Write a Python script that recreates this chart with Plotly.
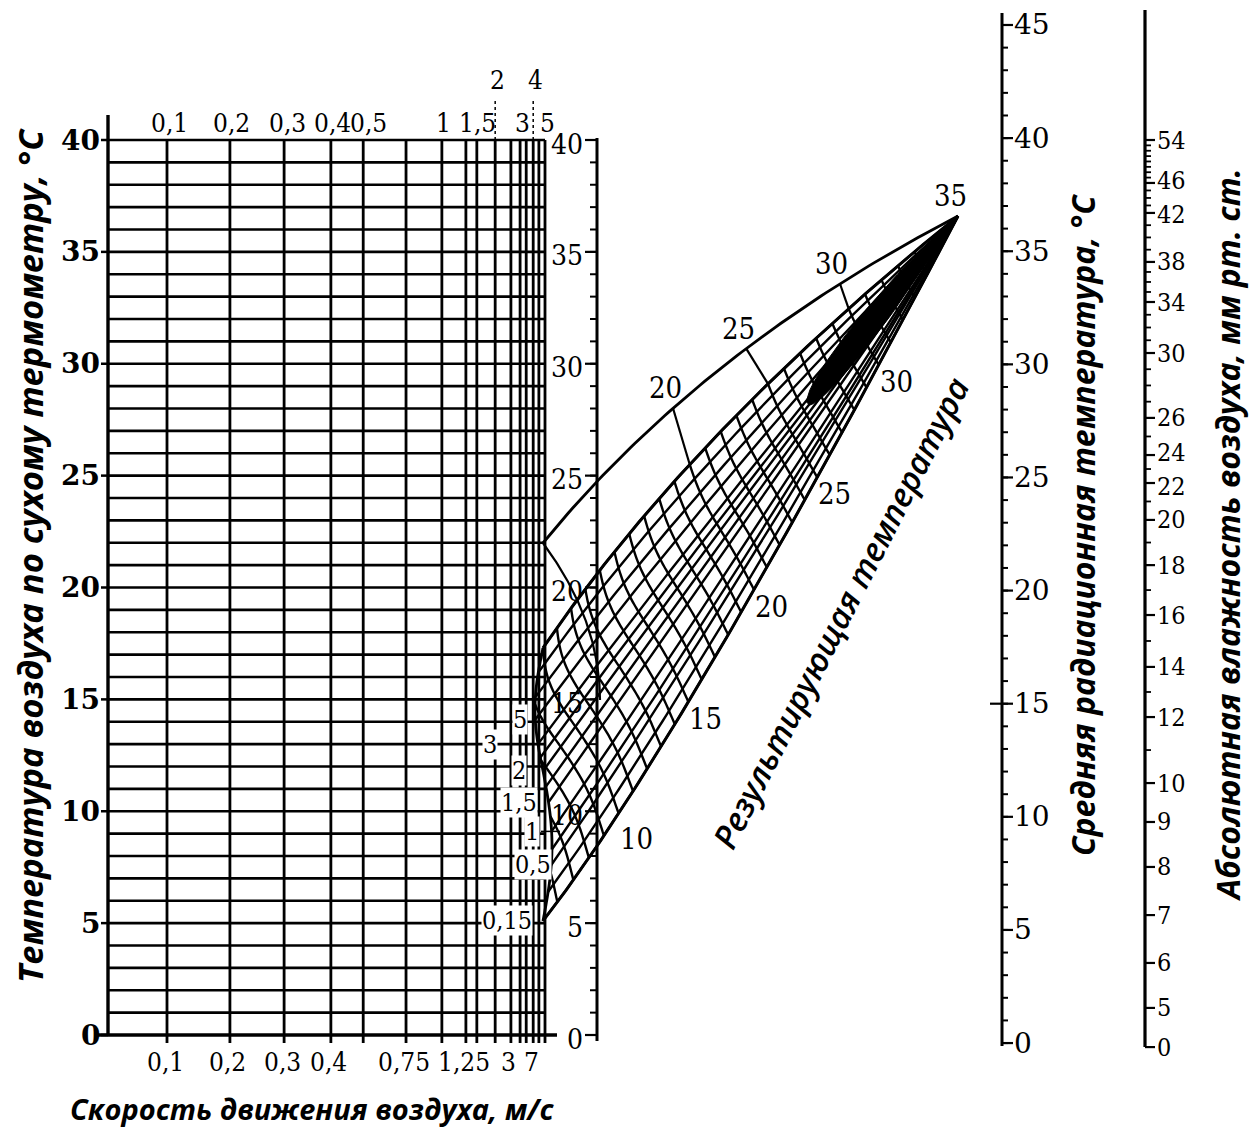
import numpy as np
import plotly.graph_objects as go

# ------------------------------------------------------------------ data
AIR_T_MIN, AIR_T_MAX = 0, 40
AIR_T_LABELS = [0, 5, 10, 15, 20, 25, 30, 35, 40]

# speed grid (top scale) and its calibration (fraction of grid width)
GRID_SPEEDS = [0, 0.1, 0.2, 0.3, 0.4, 0.5, 0.75, 1, 1.25, 1.5, 2, 2.5, 3, 3.5, 4, 4.5, 5]
GRID_SPEED_SCALE = [0, .135, .279, .403, .510, .584, .682, .764, .819, .844, .886,
                    .922, .943, .957, .973, .986, 1.0]

TOP_SPEED_VALUES = [0.1, 0.2, 0.3, 0.4, 0.5, 1, 1.5, 2, 3, 4, 5]
TOP_SPEED_LABELS = ["0,1", "0,2", "0,3", "0,4", "0,5", "1", "1,5", "2", "3", "4", "5"]
TOP_SPEED_RAISED = [0, 0, 0, 0, 0, 0, 0, 1, 0, 1, 0]

BOTTOM_SPEED_AT = [0.1, 0.2, 0.3, 0.4, 0.75, 1.25, 2.5, 4]
BOTTOM_SPEED_LABELS = ["0,1", "0,2", "0,3", "0,4", "0,75", "1,25", "3", "7"]

# mean radiant temperature scale
RAD_LABELS = [0, 5, 10, 15, 20, 25, 30, 35, 40, 45]
RAD_MINOR = list(range(0, 46))
RAD_SCALE_VALUES = [0, 45]
RAD_SCALE_AIR_T = [-0.36, 45.14]

# absolute humidity scale (mm Hg) calibrated against the temperature scale
HUM_LABELS = [0, 5, 6, 7, 8, 9, 10, 12, 14, 16, 18, 20, 22, 24, 26, 30, 34, 38, 42, 46, 54]
HUM_SCALE_AIR_T = [-0.54, 1.21, 3.22, 5.36, 7.51, 9.52, 11.26, 14.21, 16.45, 18.77, 21.0,
                   23.02, 24.67, 25.92, 27.58, 30.48, 32.76, 34.55, 36.74, 38.08, 40.0]
HUM_MINOR = list(range(10, 55))

# resultant-temperature network: air temperature at which each speed line starts
MESH_START_T = [17.3, 16.2, 15.1, 14.1, 13.0, 12.4, 11.8, 11.1, 10.4, 9.1, 8.3, 7.6, 6.4, 5.1]
MESH_SPEED_LABELS = {3: "5", 4: "3", 6: "2", 8: "1,5", 9: "1", 11: "0,5", 13: "0,15"}
RESULT_T = list(range(6, 37))
RESULT_START_UP, RESULT_START_LO, RESULT_APEX = 10.0, 5.14, 36.6
LOWER_LABELS = [10, 15, 20, 25, 30]
UPPER_LABELS = [20, 25, 30, 35]
UPPER_LABEL_POS = [0.37, 0.55, 0.76, 1.0]

# ------------------------------------------------------------------ layout geometry
W, H = 1253, 1131
PX_PER_DEG = 22.375
Y0_PX = 1035
GRID_L, GRID_R = 108, 545
AX2_X, RAD_X, HUM_X = 597, 1002, 1145

def px_t(ypx):
    return (Y0_PX - ypx) / PX_PER_DEG

def dpx(n):  # vertical pixel distance in degrees
    return n / PX_PER_DEG

def speed_x(v):
    return GRID_L + np.interp(v, GRID_SPEEDS, GRID_SPEED_SCALE) * (GRID_R - GRID_L)

APEX = np.array([958.0, RESULT_APEX])
UP_START = np.array([543.0, MESH_START_T[0]])
UP_CTRL = np.array([690.0, px_t(432)])
LO_START = np.array([543.0, MESH_START_T[-1]])
LO_CTRL = np.array([680.0, px_t(745)])
TOP_START = np.array([543.0, px_t(543)])
TOP_CTRL = np.array([700.0, px_t(350)])
A_UP, A_LO = 0.8, 0.51

fig = go.Figure()

def add(xs, ys, width=2.0, dash=None, shape="linear", color="black", fill=None):
    fig.add_trace(go.Scatter(x=xs, y=ys, mode="lines", hoverinfo="skip", showlegend=False,
                             fill=fill, fillcolor=color if fill else None,
                             line=dict(color=color, width=width, dash=dash, shape=shape)))

def segs(pairs):
    xs, ys = [], []
    for (x0, y0, x1, y1) in pairs:
        xs += [x0, x1, None]
        ys += [y0, y1, None]
    return xs, ys

def bez(p0, c, p2, t):
    t = np.asarray(t, dtype=float)[..., None]
    return (1 - t) ** 2 * p0 + 2 * t * (1 - t) * c + t ** 2 * p2

def arc_dx(s):
    if s < 0.45:
        return -8 * np.sin(np.pi * s / 0.45)
    return 9 * np.sin(np.pi * (s - 0.45) / 0.55)

# ------------------------------------------------------------------ left grid
hx, hy = segs([(GRID_L, T, GRID_R, T) for T in range(AIR_T_MIN + 1, AIR_T_MAX + 1)])
add(hx, hy, 2.6)
vx, vy = segs([(speed_x(v), AIR_T_MIN - dpx(8), speed_x(v), AIR_T_MAX) for v in GRID_SPEEDS[1:]])
add(vx, vy, 2.8)
add([GRID_L, GRID_L], [AIR_T_MIN, AIR_T_MAX + dpx(25)], 3.4)           # left axis
add([GRID_L - 10, GRID_R + 12], [AIR_T_MIN, AIR_T_MIN], 3.4)            # bottom line
tx, ty = segs([(GRID_L - 7, T, GRID_L, T) for T in AIR_T_LABELS])
add(tx, ty, 2.5)
for v, r in zip(TOP_SPEED_VALUES, TOP_SPEED_RAISED):
    if r:
        add([speed_x(v), speed_x(v)], [AIR_T_MAX, AIR_T_MAX + dpx(42)], 1.5, dash="dot")

# ------------------------------------------------------------------ second temperature axis
add([AX2_X, AX2_X], [AIR_T_MIN - dpx(6), AIR_T_MAX + dpx(2)], 3.0)
mx, my = segs([(AX2_X - 7, T, AX2_X, T) for T in range(AIR_T_MIN, AIR_T_MAX + 1)])
add(mx, my, 2.0)
Mx, My = segs([(AX2_X - 12, T, AX2_X, T) for T in AIR_T_LABELS])
add(Mx, My, 2.2)

# ------------------------------------------------------------------ radiant temperature axis
def rad_t(v):
    return np.interp(v, RAD_SCALE_VALUES, RAD_SCALE_AIR_T)

add([RAD_X, RAD_X], [rad_t(0) - dpx(3), rad_t(45) + dpx(12)], 3.0)
rx, ry = segs([(RAD_X, rad_t(v), RAD_X + 6, rad_t(v)) for v in RAD_MINOR])
add(rx, ry, 2.0)
Rx, Ry = segs([(RAD_X, rad_t(v), RAD_X + 11, rad_t(v)) for v in RAD_LABELS])
add(Rx, Ry, 2.2)
add([RAD_X - 12, RAD_X], [rad_t(15), rad_t(15)], 2.2)

# ------------------------------------------------------------------ humidity axis
def hum_t(v):
    return np.interp(v, HUM_LABELS, HUM_SCALE_AIR_T)

add([HUM_X, HUM_X], [hum_t(0), px_t(10)], 3.2)
ux, uy = segs([(HUM_X, hum_t(v), HUM_X + 6, hum_t(v)) for v in HUM_MINOR])
add(ux, uy, 1.8)
Ux, Uy = segs([(HUM_X, hum_t(v), HUM_X + 10, hum_t(v)) for v in HUM_LABELS])
add(Ux, Uy, 2.2)

# ------------------------------------------------------------------ resultant temperature network
n = len(MESH_START_T)
s_vals = [(MESH_START_T[0] - T0) / (MESH_START_T[0] - MESH_START_T[-1]) for T0 in MESH_START_T]

def fan_point(s, t):
    t = np.asarray(t, dtype=float)
    U = bez(UP_START, UP_CTRL, APEX, t)
    L = bez(LO_START, LO_CTRL, APEX, t)
    P = (1 - s) * U + s * L
    P[..., 0] += arc_dx(s) * (1 - t) ** 2
    return P

def t_of(T, s):
    a = A_UP + s * (A_LO - A_UP)
    T0 = RESULT_START_UP + s * (RESULT_START_LO - RESULT_START_UP)
    if T < T0 - 1e-9:
        return None
    f = np.clip((T - T0) / (RESULT_APEX - T0), 0, 1)
    if abs(1 - a) < 1e-9:
        return f
    return (-a + np.sqrt(a * a + 4 * (1 - a) * f)) / (2 * (1 - a))

tt = np.linspace(0, 1, 90)
fxs, fys = [], []
for j, s in enumerate(s_vals):
    P = fan_point(s, tt)
    fxs += list(P[:, 0]) + [None]
    fys += list(P[:, 1]) + [None]
    if j in (0, n - 1):
        add(list(P[:, 0]), list(P[:, 1]), 3.0)
add(fxs, fys, 2.4)

ss = np.linspace(0, 1, 60)
arc = np.array([fan_point(s, 0.0) for s in ss])
add(list(arc[:, 0]), list(arc[:, 1]), 2.8, shape="spline")

# cross curves of equal resultant temperature (start on the left arc where needed)
for T in RESULT_T:
    pts = []
    for s in np.linspace(0, 1, 40):
        t = t_of(T, s)
        if t is None:
            continue
        pts.append(fan_point(s, t))
    if T < RESULT_START_UP:
        s_edge = (RESULT_START_UP - T) / (RESULT_START_UP - RESULT_START_LO)
        pts.insert(0, fan_point(s_edge, 0.0))
    pts = np.array(pts)
    add(list(pts[:, 0]), list(pts[:, 1]), 2.4, shape="spline")

# converging lines merge into a solid, tapering wedge near the apex
tw = np.linspace(0.70, 1.0, 40)
u = np.clip((tw - 0.70) / 0.2, 0, 1)
s_hi = 0.36 - 0.24 * np.sqrt(u)
s_lo = 0.36 + 0.26 * np.sqrt(u)
e1 = np.array([fan_point(a, b) for a, b in zip(s_hi, tw)])
e2 = np.array([fan_point(a, b) for a, b in zip(s_lo, tw)])[::-1]
wedge = np.vstack([e1, e2])
add(list(wedge[:, 0]), list(wedge[:, 1]), 1.0, fill="toself")

top = bez(TOP_START, TOP_CTRL, APEX, tt)
add(list(top[:, 0]), list(top[:, 1]), 2.8)
for T, p in zip(UPPER_LABELS[:3], UPPER_LABEL_POS[:3]):
    a = bez(TOP_START, TOP_CTRL, APEX, p)
    b = fan_point(0.0, t_of(T, 0.0))
    add([a[0], b[0]], [a[1], b[1]], 2.2)
a1 = bez(TOP_START, np.array([600.0, px_t(620)]), np.array([600.0, px_t(700)]), tt)
add(list(a1[:, 0]), list(a1[:, 1]), 2.2)

add([500, 533], [MESH_START_T[4], MESH_START_T[4]], 1.5, dash="dash")
add([541, 560], [MESH_START_T[9], MESH_START_T[9]], 1.5)

# ------------------------------------------------------------------ text
ann = []
SERIF = "DejaVu Serif"
SERIF_C = "DejaVu Serif Condensed"
TITLE = "Open Sans"

def text(x, y, s, size=28, family=SERIF, xanchor="center", yanchor="middle",
         angle=0, weight="normal", style="normal", bg=None):
    d = dict(x=x, y=y, xref="x", yref="y", text=s, showarrow=False, xanchor=xanchor,
             yanchor=yanchor, textangle=angle,
             font=dict(family=family, size=size, color="black", weight=weight, style=style))
    if bg:
        d.update(bgcolor=bg, borderpad=0)
    ann.append(d)

for T in AIR_T_LABELS:
    text(GRID_L - 6, T, str(T), 28, SERIF, xanchor="right", weight="bold")
    text(AX2_X - 12, T + dpx(-4), str(T), 28, SERIF_C, xanchor="right")
TOP_DX = [2, 2, 3, 2, 5, 2, 1, 2, 2, 2, 2]
for v, lab, r, dx in zip(TOP_SPEED_VALUES, TOP_SPEED_LABELS, TOP_SPEED_RAISED, TOP_DX):
    text(speed_x(v) + dx, AIR_T_MAX + dpx(17 + 43 * r), lab, 26, SERIF_C)
for v, lab in zip(BOTTOM_SPEED_AT, BOTTOM_SPEED_LABELS):
    text(speed_x(v) - 2, AIR_T_MIN - dpx(27), lab, 26, SERIF_C)
for v in RAD_LABELS:
    text(RAD_X + 10, rad_t(v), str(v), 28, SERIF, xanchor="left")
HUM_DY = {46: 2, 42: -2, 24: 3, 22: -3}
for v in HUM_LABELS:
    text(HUM_X + 10, hum_t(v) + dpx(HUM_DY.get(v, 0)), str(v), 25, SERIF_C, xanchor="left")

LABEL_DX = {"5": -17, "3": -47, "2": -18, "1,5": -7, "1": -5, "0,5": 7, "0,15": -12}
for j, lab in MESH_SPEED_LABELS.items():
    text(GRID_R + LABEL_DX[lab], MESH_START_T[j], lab, 25, SERIF_C, xanchor="right", bg="white")
for T in LOWER_LABELS:
    p = fan_point(1.0, t_of(T, 1.0))
    dy = 26 if T == 10 else 17
    text(p[0] - 1, p[1] - dpx(dy), str(T), 29, SERIF_C, xanchor="left")
for T, pos in zip(UPPER_LABELS, UPPER_LABEL_POS):
    p = bez(TOP_START, TOP_CTRL, APEX, pos)
    text(p[0] - 8, p[1] + dpx(20), str(T), 29, SERIF_C)

text(29, px_t(556), "Температура воздуха по сухому термометру, °С", 34.5, TITLE, angle=-90,
     weight="bold", style="italic")
text(312, px_t(1108), "Скорость движения воздуха, м/с", 29, TITLE, weight="bold", style="italic")
text(840, px_t(613), "Результирующая температура", 33, TITLE, angle=-63, style="italic",
     weight=600)
text(1082, px_t(525), "Средняя радиационная температура, °С", 32, TITLE, angle=-90,
     weight="bold", style="italic")
text(1227, px_t(535), "Абсолютная влажность воздуха, мм рт. ст.", 32, TITLE, angle=-90,
     weight="bold", style="italic")

fig.update_layout(
    width=W, height=H, margin=dict(l=0, r=0, t=0, b=0),
    paper_bgcolor="white", plot_bgcolor="white", showlegend=False,
    xaxis=dict(range=[0, W], visible=False, fixedrange=True),
    yaxis=dict(range=[px_t(H), px_t(0)], visible=False, fixedrange=True),
    annotations=ann,
)
fig.write_html("out.html", config={"displayModeBar": False},
               post_script="document.body.style.margin='0';document.body.style.padding='0';")
